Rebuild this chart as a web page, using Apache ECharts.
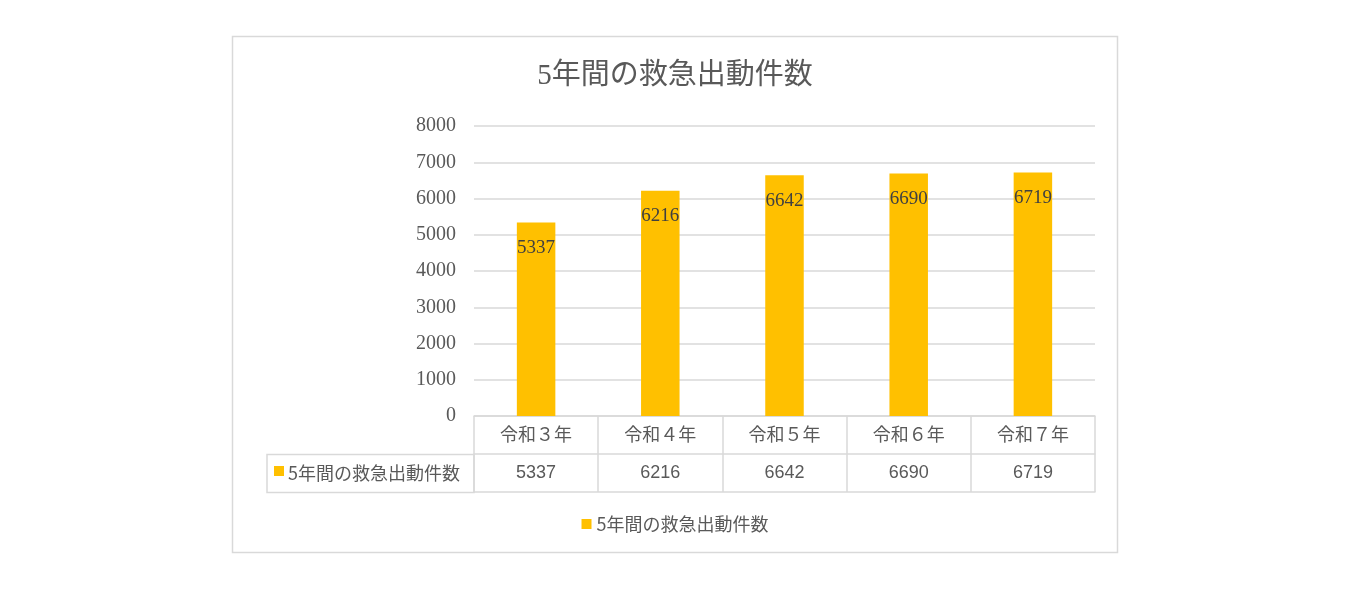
<!DOCTYPE html>
<html>
<head>
<meta charset="utf-8">
<script src="https://cdn.jsdelivr.net/npm/echarts@6/dist/echarts.min.js"></script>
<style>
  html, body { margin: 0; padding: 0; background: #fff; }
  #chart { width: 1350px; height: 589px; }
</style>
</head>
<body>
<div id="chart"></div>
<script>
const seriesName = '5年間の救急出動件数';
const categories = ['令和３年', '令和４年', '令和５年', '令和６年', '令和７年'];
const counts = [5337, 6216, 6642, 6690, 6719];

const JP = "'Noto Sans CJK JP', 'Noto Sans', sans-serif";
const GRID_LINE = '#d9d9d9';
const TEXT = '#595959';

const chart = echarts.init(document.getElementById('chart'));

chart.setOption({
    backgroundColor: '#fff',
    animation: false,
    title: {
        text: seriesName,
        left: 'center', top: 57,
        textStyle: { fontFamily: "'Liberation Serif', 'Noto Sans CJK JP', serif", fontSize: 29, fontWeight: 'normal', color: TEXT },
    },
    legend: {
        data: [seriesName],
        left: 'center', top: 510,
        icon: 'rect', itemWidth: 10, itemHeight: 10, itemGap: 6,
        textStyle: { fontFamily: JP, fontSize: 18, color: TEXT },
    },
    grid: { left: 474, right: 255, top: 126, bottom: 173 },
    xAxis: [
        {
            // table row 1: category names, ticks form the column borders
            type: 'category', data: categories, position: 'bottom',
            axisLine: { show: true, lineStyle: { color: GRID_LINE, width: 1.5 } },
            axisTick: { show: true, length: 76, interval: 0, lineStyle: { color: GRID_LINE, width: 1.5 } },
            axisLabel: { margin: 9, interval: 0, fontFamily: JP, fontSize: 18, color: TEXT },
        },
        {
            // table row 2: values
            type: 'category', data: categories, position: 'bottom', offset: 38,
            axisLine: { show: true, lineStyle: { color: GRID_LINE, width: 1.5 } },
            axisTick: { show: false },
            axisLabel: {
                margin: 10, interval: 0, fontFamily: "'Liberation Sans', sans-serif", fontSize: 18, color: TEXT,
                formatter: (v, i) => String(counts[i]),
            },
        },
        {
            // bottom border of the table
            type: 'category', data: categories, position: 'bottom', offset: 76,
            axisLine: { show: true, lineStyle: { color: GRID_LINE, width: 1.5 } },
            axisTick: { show: false }, axisLabel: { show: false },
        },
    ],
    yAxis: {
        type: 'value', min: 0, max: 8000, interval: 1000,
        axisLine: { show: false }, axisTick: { show: false },
        axisLabel: {
            margin: 18, fontFamily: "'Liberation Serif', serif", fontSize: 20, color: TEXT,
            formatter: v => String(v),
        },
        splitLine: { lineStyle: { color: GRID_LINE, width: 1.5 } },
    },
    series: [{
        name: seriesName, type: 'bar', data: counts,
        barWidth: '31%',
        itemStyle: { color: '#FFC000' },
        label: {
            show: true, position: 'insideTop', distance: 16,
            fontFamily: "'Liberation Serif', serif", fontSize: 19, color: '#404040',
        },
    }],
    graphic: [
        {
            type: 'rect', silent: true, z: -1,
            shape: { x: 232.5, y: 36.5, width: 885, height: 516 },
            style: { fill: 'none', stroke: GRID_LINE, lineWidth: 1.5 },
        },
        {
            // left cell of the value row (series key + name)
            type: 'rect', silent: true,
            shape: { x: 267, y: 454.5, width: 207, height: 38 },
            style: { fill: 'none', stroke: GRID_LINE, lineWidth: 1.5 },
        },
        {
            type: 'rect', silent: true,
            shape: { x: 274, y: 466, width: 10, height: 10 },
            style: { fill: '#FFC000' },
        },
        {
            type: 'text', silent: true,
            x: 288, y: 473,
            style: { text: seriesName, fontFamily: JP, fontSize: 18, fill: TEXT, verticalAlign: 'middle' },
        },
    ],
});
</script>
</body>
</html>
